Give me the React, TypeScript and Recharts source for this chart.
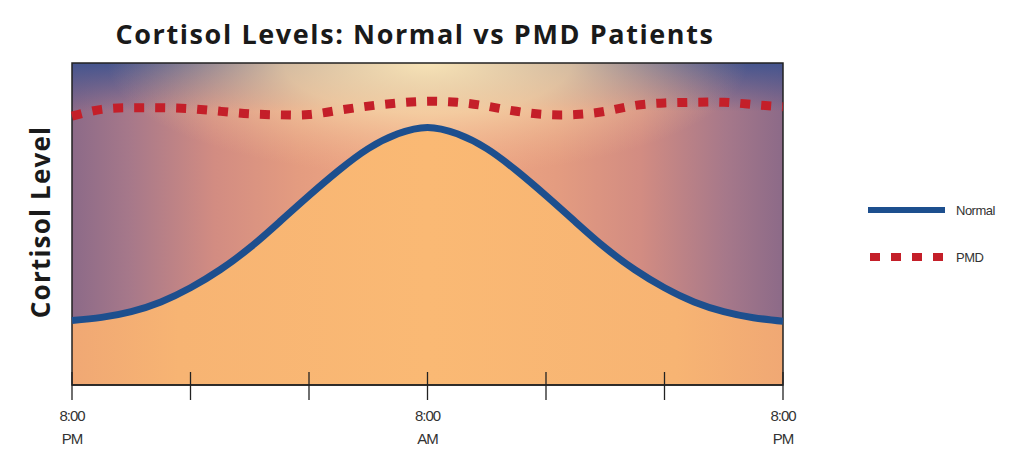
import {
  ComposedChart,
  Area,
  Line,
  XAxis,
  YAxis,
  ReferenceArea,
} from 'recharts';

// hours after 8:00 PM
const hours = [0, 1, 2, 3, 4, 5, 6, 7, 8, 9, 10, 11, 12, 13, 14, 15, 16, 17, 18, 19, 20, 21, 22, 23, 24];
const normalLevels = [20, 21, 22.8, 25.8, 30.2, 35.8, 42.6, 50.6, 58.8, 66.6, 73.4, 78, 80, 78, 73.4, 66.6, 58.8, 50.6, 42.6, 35.8, 30.2, 25.8, 22.8, 20.9, 19.8];
const pmdLevels = [83.5, 85.6, 86.1, 86.1, 85.8, 85, 84.2, 83.9, 84, 85.3, 86.6, 87.6, 88.1, 87.8, 86.6, 85, 84, 84, 85, 86.8, 87.6, 87.8, 87.8, 87.1, 86.4];
const tickHours = [0, 4, 8, 12, 16, 20, 24];
const tickLabels: Record<number, [string, string]> = {
  0: ['8:00', 'PM'],
  12: ['8:00', 'AM'],
  24: ['8:00', 'PM'],
};

const data = hours.map((h, i) => ({
  hour: h,
  normal: normalLevels[i],
  pmd: pmdLevels[i],
}));

const NORMAL_COLOR = '#1d4f8e';
const PMD_COLOR = '#c41f29';
const SMALL_FONT = "'Liberation Sans', Arial, sans-serif";

const HourTick = ({ x, y, payload }: any) => {
  const label = tickLabels[payload.value];
  return (
    <g>
      <line x1={x} x2={x} y1={y - 13} y2={y + 15} stroke="#222" strokeWidth={1.3} />
      {label && (
        <text textAnchor="middle" fill="#333" fontSize={15} letterSpacing={-1} fontFamily={SMALL_FONT}>
          <tspan x={x} y={y + 36}>{label[0]}</tspan>
          <tspan x={x} y={y + 59}>{label[1]}</tspan>
        </text>
      )}
    </g>
  );
};

const ChartLegend = () => (
  <svg width={150} height={80} style={{ position: 'absolute', left: 852, top: 185 }}>
    <line x1={8} x2={85} y1={17} y2={17} stroke={NORMAL_COLOR} strokeWidth={6} />
    <text x={96} y={22} fontSize={13} fill="#333" letterSpacing={-0.5} fontFamily={SMALL_FONT}>Normal</text>
    <line x1={10} x2={85} y1={64} y2={64} stroke={PMD_COLOR} strokeWidth={8} strokeDasharray="10 11" />
    <text x={96} y={69} fontSize={13} fill="#333" letterSpacing={-0.5} fontFamily={SMALL_FONT}>PMD</text>
  </svg>
);

export default function App() {
  return (
    <div style={{ position: 'relative', width: 1010, height: 439, fontFamily: "'Open Sans', sans-serif" }}>
      <div
        style={{
          position: 'absolute',
          top: 7,
          left: 0,
          width: 814,
          textAlign: 'center',
          fontSize: 27,
          fontWeight: 700,
          letterSpacing: 1.6,
          color: '#1a1a1a',
        }}
      >
        Cortisol Levels: Normal vs PMD Patients
      </div>
      <div
        style={{
          position: 'absolute',
          left: 32,
          top: 214,
          transform: 'translate(-50%, -50%) rotate(-90deg)',
          fontSize: 26,
          fontWeight: 700,
          letterSpacing: 1.2,
          color: '#1a1a1a',
          whiteSpace: 'nowrap',
        }}
      >
        Cortisol Level
      </div>
      <ComposedChart
        width={800}
        height={439}
        data={data}
        margin={{ top: 55, right: 25, bottom: 12, left: 64 }}
        style={{ position: 'absolute', top: 0, left: 0 }}
      >
        <defs>
          <linearGradient id="bgH" x1="0" y1="0" x2="1" y2="0">
            <stop offset="0%" stopColor="#8c6a88" />
            <stop offset="8%" stopColor="#a6788a" />
            <stop offset="20%" stopColor="#d28c82" />
            <stop offset="32%" stopColor="#e49c80" />
            <stop offset="50%" stopColor="#f4ac86" />
            <stop offset="68%" stopColor="#e49c80" />
            <stop offset="80%" stopColor="#d28c82" />
            <stop offset="92%" stopColor="#a6788a" />
            <stop offset="100%" stopColor="#8c6a88" />
          </linearGradient>
          <linearGradient id="bgTop" x1="0" y1="0" x2="0" y2="1">
            <stop offset="0%" stopColor="#3c528f" stopOpacity={0.9} />
            <stop offset="15%" stopColor="#3c528f" stopOpacity={0} />
          </linearGradient>
          <radialGradient id="bgGlow" cx="0.5" cy="0" r="0.5" gradientTransform="matrix(0.9 0 0 0.7 0.05 0)">
            <stop offset="0%" stopColor="#f7e3b6" stopOpacity={1} />
            <stop offset="45%" stopColor="#f4d3a6" stopOpacity={0.8} />
            <stop offset="100%" stopColor="#f2b890" stopOpacity={0} />
          </radialGradient>
          <linearGradient id="underFill" x1="0" y1="0" x2="1" y2="0">
            <stop offset="0%" stopColor="#f0a874" />
            <stop offset="15%" stopColor="#f7b473" />
            <stop offset="50%" stopColor="#fab974" />
            <stop offset="85%" stopColor="#f7b473" />
            <stop offset="100%" stopColor="#f0a874" />
          </linearGradient>
        </defs>
        <XAxis
          dataKey="hour"
          type="number"
          domain={[0, 24]}
          ticks={tickHours}
          tick={<HourTick />}
          tickLine={false}
          tickSize={0}
          tickMargin={0}
          height={50}
          axisLine={{ stroke: '#222', strokeWidth: 1.5 }}
          interval={0}
        />
        <YAxis hide domain={[0, 100]} />
        <ReferenceArea x1={0} x2={24} y1={0} y2={100} fill="url(#bgH)" fillOpacity={1} stroke="none" ifOverflow="visible" />
        <ReferenceArea x1={0} x2={24} y1={0} y2={100} fill="url(#bgTop)" fillOpacity={1} stroke="none" ifOverflow="visible" />
        <ReferenceArea x1={0} x2={24} y1={0} y2={100} fill="url(#bgGlow)" fillOpacity={1} stroke="none" ifOverflow="visible" />
        <Area
          type="natural"
          dataKey="normal"
          stroke="none"
          fill="url(#underFill)"
          fillOpacity={1}
          isAnimationActive={false}
          legendType="none"
        />
        <ReferenceArea x1={0} x2={24} y1={0} y2={100} fill="none" stroke="#222" strokeWidth={1.5} ifOverflow="visible" />
        <Line
          type="natural"
          dataKey="normal"
          name="Normal"
          stroke={NORMAL_COLOR}
          strokeWidth={7}
          dot={false}
          isAnimationActive={false}
        />
        <Line
          type="natural"
          dataKey="pmd"
          name="PMD"
          stroke={PMD_COLOR}
          strokeWidth={9}
          strokeDasharray="10 11"
          dot={false}
          isAnimationActive={false}
        />
      </ComposedChart>
      <ChartLegend />
    </div>
  );
}
